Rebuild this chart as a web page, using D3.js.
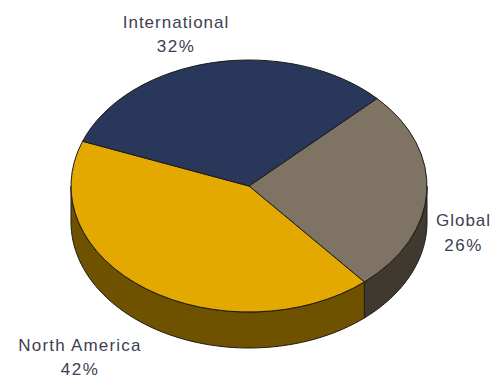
<!DOCTYPE html>
<html>
<head>
<meta charset="utf-8">
<script src="https://cdn.jsdelivr.net/npm/d3@7"></script>
<style>
html, body { margin: 0; padding: 0; background: #fff; }
svg { display: block; }
text { font-family: "Liberation Sans", Arial, sans-serif; font-size: 17px; fill: #3b4152; text-anchor: middle; }
</style>
</head>
<body>
<svg id="chart" width="500" height="378"></svg>
<script>
// Regional share of the total, clockwise from the top-right slice
const categories = ["Global", "North America", "International"];
const shares = [26, 42, 32];
const topColors = ["#7f7464", "#e3a900", "#28375a"];
const wallColors = ["#40392f", "#6e5200", "#1a2440"];

const cx = 249, cy = 186, rx = 178, ry = 126, depth = 36;
const firstSliceAngle = 46 * Math.PI / 180;

const svg = d3.select("#chart");

const pie = d3.pie().sort(null).value(d => d)
  .startAngle(firstSliceAngle)
  .endAngle(firstSliceAngle + 2 * Math.PI);
const slices = pie(shares);

// Tilted disc projection: angle is measured clockwise from 12 o'clock
const px = a => cx + rx * Math.sin(a);
const py = a => cy - ry * Math.cos(a);

// Side walls: only the part of each slice on the near half of the rim is visible
const line = d3.line();
slices.forEach((s, i) => {
  const lo = Math.max(s.startAngle, Math.PI / 2);
  const hi = Math.min(s.endAngle, 3 * Math.PI / 2);
  if (lo >= hi) return;
  const steps = d3.range(0, 61).map(k => lo + (hi - lo) * k / 60);
  const rim = steps.map(a => [px(a), py(a)]);
  const floor = steps.slice().reverse().map(a => [px(a), py(a) + depth]);
  svg.append("path")
    .attr("d", line(rim.concat(floor)) + "Z")
    .attr("fill", wallColors[i])
    .attr("stroke", "#1c1a18")
    .attr("stroke-width", 1)
    .attr("stroke-linejoin", "round");
});

// Top face: an ordinary arc squashed vertically
const arc = d3.arc().innerRadius(0).outerRadius(rx);
svg.append("g")
  .attr("transform", `translate(${cx},${cy}) scale(1,${ry / rx})`)
  .selectAll("path")
  .data(slices)
  .join("path")
  .attr("d", arc)
  .attr("fill", (d, i) => topColors[i])
  .attr("stroke", "#1c1a18")
  .attr("stroke-width", 1)
  .attr("vector-effect", "non-scaling-stroke")
  .attr("stroke-linejoin", "round");

// Two-line labels beside each slice
const labelAnchors = [
  { x: 463.5, y1: 226, y2: 251, spacing: 1 },
  { x: 80, y1: 351, y2: 375, spacing: 1.2 },
  { x: 176, y1: 28, y2: 52, spacing: 1 }
];
categories.forEach((name, i) => {
  const a = labelAnchors[i];
  svg.append("text").attr("x", a.x).attr("y", a.y1)
    .style("letter-spacing", a.spacing + "px").text(name);
  svg.append("text").attr("x", a.x).attr("y", a.y2)
    .style("letter-spacing", "1.5px").text(shares[i] + "%");
});
</script>
</body>
</html>
